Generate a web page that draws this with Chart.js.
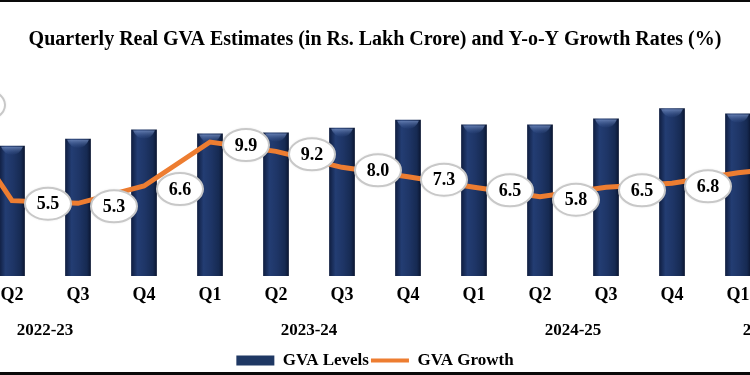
<!DOCTYPE html>
<html>
<head>
<meta charset="utf-8">
<title>Quarterly Real GVA Estimates</title>
<script src="https://cdn.jsdelivr.net/npm/chart.js@4.4.1/dist/chart.umd.min.js"></script>
<style>
  html, body { margin: 0; padding: 0; background: #fff; }
  #wrap { position: relative; width: 750px; height: 375px; overflow: hidden; background: #fff; }
  #box { position: absolute; left: -87px; top: 0; width: 924px; height: 375px; }
  .edge { position: absolute; left: 0; width: 750px; background: #0a0a0a; z-index: 2; }
</style>
</head>
<body>
<div id="wrap">
  <div id="box"><canvas id="chart"></canvas></div>
  <div class="edge" style="top:0;height:2px"></div>
  <div class="edge" style="bottom:0;height:3px"></div>
</div>
<script>
// Quarterly real GVA (Rs. lakh crore) and y-o-y growth (%), Q1 2022-23 .. Q2 2025-26
// (the first and last quarter fall just outside the cropped frame)
const QUARTERS = ['Q1', 'Q2', 'Q3', 'Q4', 'Q1', 'Q2', 'Q3', 'Q4', 'Q1', 'Q2', 'Q3', 'Q4', 'Q1', 'Q2'];
const YEARS = ['2022-23', '2023-24', '2024-25', '2025-26'];
const YEAR_QUARTERS = [4, 4, 4, 2];
const GVA_LEVELS = [35.4, 35.6, 37.5, 40.0, 38.9, 39.2, 40.5, 42.7, 41.4, 41.4, 43.0, 45.8, 44.4, 44.8];
const GVA_GROWTH = [12.9, 5.5, 5.3, 6.6, 9.9, 9.2, 8.0, 7.3, 6.5, 5.8, 6.5, 6.8, 7.6, 8.1];

const SERIF = "'Liberation Serif', 'DejaVu Serif', serif";
const NAVY = '#1f3864';
const ORANGE = '#ed7d31';
const BAR_FRACTION = 0.39;

// horizontal shading so the bars read as rounded columns
function barShade(c) {
  if (c.type !== 'data' || !c.chart.chartArea) return NAVY;
  const s = c.chart.scales.x;
  const cx = s.getPixelForValue(c.dataIndex);
  const w = (s.width / QUARTERS.length) * BAR_FRACTION;
  const g = c.chart.ctx.createLinearGradient(cx - w / 2, 0, cx + w / 2, 0);
  g.addColorStop(0, '#0f1d3f');
  g.addColorStop(0.25, '#233d73');
  g.addColorStop(0.55, '#1e3566');
  g.addColorStop(0.85, '#162a52');
  g.addColorStop(1, '#0a1530');
  return g;
}

// light bevel at the top of each bar
const barCaps = {
  id: 'barCaps',
  afterDatasetDraw(chart, args) {
    if (args.index !== 0) return;
    const ctx = chart.ctx;
    ctx.save();
    args.meta.data.forEach(bar => {
      const { x, y, width } = bar.getProps(['x', 'y', 'width'], true);
      const g = ctx.createLinearGradient(0, y, 0, y + 9);
      g.addColorStop(0, 'rgba(140,165,215,0.75)');
      g.addColorStop(1, 'rgba(60,90,150,0.1)');
      ctx.fillStyle = g;
      ctx.beginPath();
      ctx.moveTo(x - width / 2 + 2, y + 1);
      ctx.lineTo(x + width / 2 - 2, y + 1);
      ctx.quadraticCurveTo(x + width * 0.3, y + 9, x, y + 9);
      ctx.quadraticCurveTo(x - width * 0.3, y + 9, x - width / 2 + 2, y + 1);
      ctx.fill();
    });
    ctx.restore();
  }
};

// oval data labels beside the growth points
const growthLabels = {
  id: 'growthLabels',
  afterDatasetsDraw(chart) {
    const meta = chart.getDatasetMeta(1);
    const ctx = chart.ctx;
    ctx.save();
    meta.data.forEach((pt, i) => {
      const x = pt.x + 36, y = pt.y + 3;
      ctx.beginPath();
      ctx.ellipse(x, y, 23, 16, 0, 0, Math.PI * 2);
      ctx.shadowColor = 'rgba(0,0,0,0.18)';
      ctx.shadowBlur = 3;
      ctx.fillStyle = '#fff';
      ctx.fill();
      ctx.shadowColor = 'transparent';
      ctx.lineWidth = 2;
      ctx.strokeStyle = '#c8c8c8';
      ctx.stroke();
      ctx.fillStyle = '#000';
      ctx.font = `bold 18px ${SERIF}`;
      ctx.textAlign = 'center';
      ctx.textBaseline = 'middle';
      ctx.fillText(GVA_GROWTH[i].toFixed(1), x, y + 1);
    });
    ctx.restore();
  }
};

// fiscal-year row under the quarter ticks
const yearRow = {
  id: 'yearRow',
  afterDraw(chart) {
    const s = chart.scales.x;
    const ctx = chart.ctx;
    ctx.save();
    ctx.fillStyle = '#000';
    ctx.font = `bold 17px ${SERIF}`;
    ctx.textAlign = 'center';
    ctx.textBaseline = 'middle';
    let start = 0;
    YEARS.forEach((yr, i) => {
      const end = start + YEAR_QUARTERS[i] - 1;
      const cx = (s.getPixelForValue(start) + s.getPixelForValue(end)) / 2;
      ctx.fillText(yr, cx, chart.chartArea.bottom + 55);
      start = end + 1;
    });
    ctx.restore();
  }
};

new Chart(document.getElementById('chart'), {
  data: {
    labels: QUARTERS,
    datasets: [
      {
        type: 'bar',
        label: 'GVA Levels',
        data: GVA_LEVELS,
        backgroundColor: barShade,
        borderWidth: 0,
        barPercentage: 0.6,
        categoryPercentage: BAR_FRACTION / 0.6,
        yAxisID: 'y',
        order: 2
      },
      {
        type: 'line',
        label: 'GVA Growth',
        data: GVA_GROWTH,
        borderColor: ORANGE,
        backgroundColor: ORANGE,
        borderWidth: 5,
        pointRadius: 0,
        tension: 0,
        yAxisID: 'y1',
        order: 1
      }
    ]
  },
  options: {
    responsive: true,
    maintainAspectRatio: false,
    animation: false,
    layout: { padding: { left: 0, right: 0, top: 0, bottom: -4 } },
    plugins: {
      title: {
        display: true,
        text: 'Quarterly Real GVA Estimates (in Rs. Lakh Crore) and Y-o-Y Growth Rates (%)',
        color: '#000',
        font: { family: SERIF, size: 20, weight: 'bold' },
        padding: { top: 28, bottom: 8 }
      },
      legend: {
        position: 'bottom',
        labels: {
          color: '#000',
          font: { family: SERIF, size: 17, weight: 'bold' },
          usePointStyle: true,
          pointStyleWidth: 38,
          boxHeight: 10,
          padding: 2,
          generateLabels: () => [
            { text: 'GVA Levels', fillStyle: NAVY, strokeStyle: NAVY, lineWidth: 0, pointStyle: 'rect', datasetIndex: 0 },
            { text: 'GVA Growth', fillStyle: ORANGE, strokeStyle: ORANGE, lineWidth: 4, pointStyle: 'line', datasetIndex: 1 }
          ]
        }
      },
      tooltip: { enabled: false }
    },
    scales: {
      x: {
        grid: { display: false },
        border: { display: false },
        ticks: {
          color: '#000',
          font: { family: SERIF, size: 18, weight: 'bold' },
          autoSkip: false,
          maxRotation: 0,
          padding: 1
        },
        afterFit: s => { s.height = 74; }
      },
      y: { display: false, min: 0, max: 59 },
      y1: { display: false, min: -0.15, max: 16.05 }
    }
  },
  plugins: [barCaps, growthLabels, yearRow]
});
</script>
</body>
</html>
